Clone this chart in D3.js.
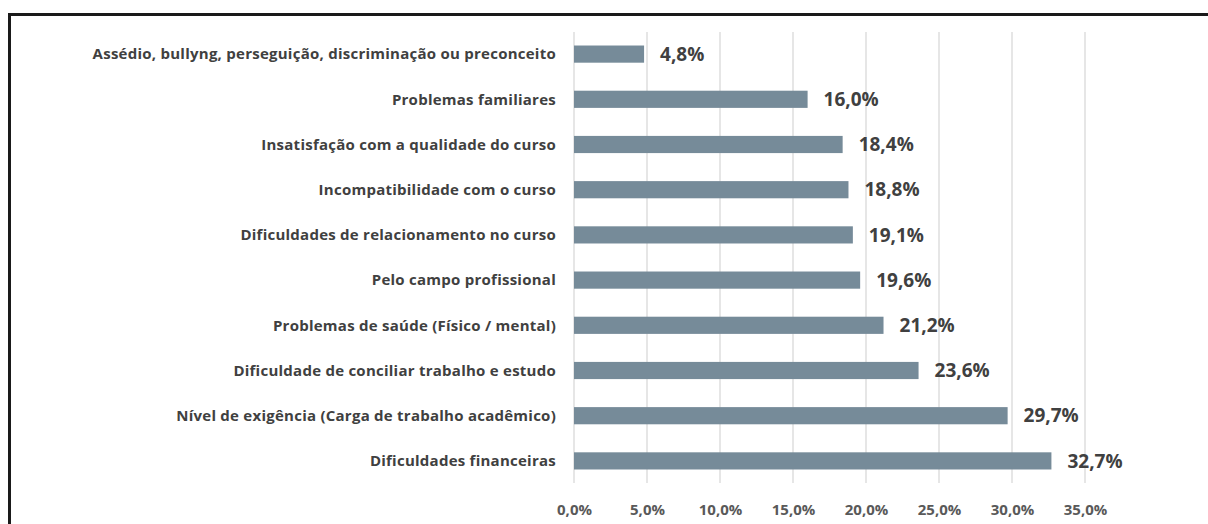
<!DOCTYPE html>
<html>
<head>
<meta charset="utf-8">
<script src="https://cdn.jsdelivr.net/npm/d3@7"></script>
<style>
  body { margin: 0; background: #fff; }
  svg { display: block; }
  text { font-family: "Open Sans", Lato, sans-serif; font-weight: 700; }
</style>
</head>
<body>
<div id="chart"></div>
<script>
var categories = [
  "Assédio, bullyng, perseguição, discriminação ou preconceito",
  "Problemas familiares",
  "Insatisfação com a qualidade do curso",
  "Incompatibilidade com o curso",
  "Dificuldades de relacionamento no curso",
  "Pelo campo profissional",
  "Problemas de saúde (Físico / mental)",
  "Dificuldade de conciliar trabalho e estudo",
  "Nível de exigência (Carga de trabalho acadêmico)",
  "Dificuldades financeiras"
];
var values = [4.8, 16.0, 18.4, 18.8, 19.1, 19.6, 21.2, 23.6, 29.7, 32.7];
var tickValues = [0, 5, 10, 15, 20, 25, 30, 35];

var width = 1208, height = 524;
var fmt = function(v) { return d3.format(".1f")(v).replace(".", ",") + "%"; };

var svg = d3.select("#chart")
  .append("svg")
  .attr("width", width)
  .attr("height", height);

// frame
svg.append("rect")
  .attr("x", 9.5)
  .attr("y", 14.5)
  .attr("width", 1300)
  .attr("height", 600)
  .attr("fill", "none")
  .attr("stroke", "#1a1a1a")
  .attr("stroke-width", 3);

var xScale = d3.scaleLinear().domain([0, 35]).range([574, 1085]);

var yScale = d3.scaleBand()
  .domain(categories)
  .range([31.5, 483.5])
  .paddingInner(0.62)
  .paddingOuter(0.31);

// grid
svg.append("g")
  .attr("class", "grid")
  .selectAll("line")
  .data(tickValues)
  .enter()
  .append("line")
  .attr("x1", function(d) { return xScale(d); })
  .attr("x2", function(d) { return xScale(d); })
  .attr("y1", 32)
  .attr("y2", 483)
  .attr("stroke", "#e6e6e6")
  .attr("stroke-width", 2);

// x axis labels
var xAxis = d3.axisBottom(xScale)
  .tickValues(tickValues)
  .tickSize(0)
  .tickPadding(0)
  .tickFormat(fmt);

svg.append("g")
  .attr("class", "x-axis")
  .attr("transform", "translate(0,504)")
  .call(xAxis)
  .call(function(g) { g.select(".domain").remove(); })
  .selectAll("text")
  .attr("font-family", "'Open Sans', sans-serif")
  .attr("font-weight", 700)
  .attr("font-size", 15)
  .attr("fill", "#595959");

// bars
svg.append("g")
  .selectAll("rect")
  .data(values)
  .enter()
  .append("rect")
  .attr("x", xScale(0))
  .attr("y", function(d, i) { return yScale(categories[i]); })
  .attr("width", function(d) { return xScale(d) - xScale(0); })
  .attr("height", yScale.bandwidth())
  .attr("fill", "#768b99");

// category labels
svg.append("g")
  .selectAll("text")
  .data(categories)
  .enter()
  .append("text")
  .attr("x", 556)
  .attr("y", function(d) { return yScale(d) + yScale.bandwidth() / 2; })
  .attr("dy", "0.35em")
  .attr("text-anchor", "end")
  .attr("font-size", 15)
  .attr("letter-spacing", 0.25)
  .attr("fill", "#404040")
  .text(function(d) { return d; });

// value labels
svg.append("g")
  .selectAll("text")
  .data(values)
  .enter()
  .append("text")
  .attr("x", function(d) { return xScale(d) + 16; })
  .attr("y", function(d, i) { return yScale(categories[i]) + yScale.bandwidth() / 2; })
  .attr("dy", "0.35em")
  .attr("font-size", 19)
  .attr("fill", "#404040")
  .text(fmt);
</script>
</body>
</html>
